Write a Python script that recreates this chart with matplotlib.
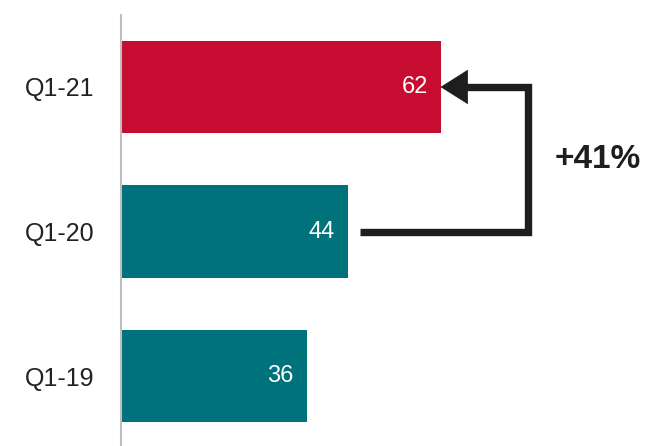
import matplotlib.pyplot as plt

plt.rcParams['font.family'] = ['Liberation Sans', 'DejaVu Sans']

# quarterly values, bottom to top
quarters = ['Q1-19', 'Q1-20', 'Q1-21']
values = [36, 44, 62]
colors = ['#00727B', '#00727B', '#C60C30']
growth_label = '+41%'

fig = plt.figure(figsize=(6.57, 4.46), dpi=100)
ax = fig.add_axes([121 / 657, 0, 536 / 657, 431 / 446])

pos = range(len(quarters))
ax.barh(pos, values, height=0.64, color=colors)

# value labels inside the bar ends
for p, v in zip(pos, values):
    ax.text(v - 2.5, p, str(v), ha='right', va='center', color='white', fontsize=17)

ax.set_xlim(0, 104)
ax.set_ylim(-0.484, 2.498)
ax.set_yticks(list(pos))
ax.set_yticklabels(quarters, fontsize=18, color='#222222')
ax.tick_params(axis='y', length=0, pad=19)
ax.set_xticks([])
for side in ['top', 'right', 'bottom']:
    ax.spines[side].set_visible(False)
ax.spines['left'].set_color('#BFBFBF')
ax.spines['left'].set_linewidth(1.5)

# elbow connector from Q1-20 to Q1-21
arrow_color = '#1E1E1E'
elbow_x = 79
ax.plot([values[1] + 2.3, elbow_x, elbow_x, values[2] + 3], [1, 1, 2, 2],
        color=arrow_color, lw=5.3, solid_capstyle='butt', solid_joinstyle='miter')
ax.annotate('', xy=(values[2], 2), xytext=(values[2] + 4, 2),
            arrowprops=dict(arrowstyle='-|>,head_length=0.95,head_width=0.6',
                            mutation_scale=20, lw=0.5, color=arrow_color,
                            shrinkA=0, shrinkB=0))
ax.text(elbow_x + 13.5, 1.5, growth_label, ha='center', va='center',
        fontsize=24, fontweight='bold', color=arrow_color)

fig.savefig('out.png', dpi=100)
